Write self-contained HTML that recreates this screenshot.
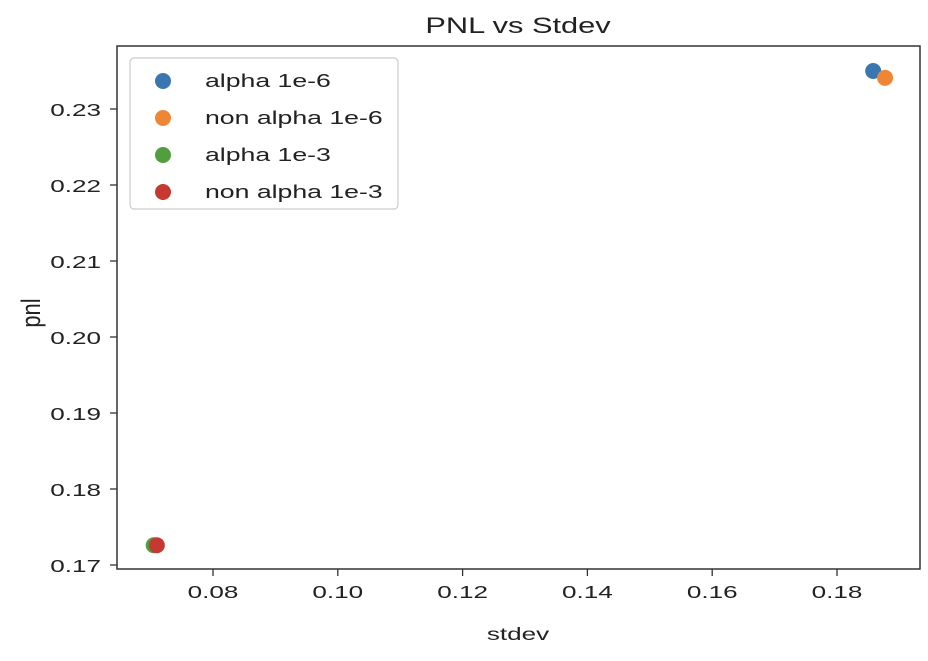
<!DOCTYPE html>
<html><head><meta charset="utf-8"><style>
body{margin:0;background:#fff;font-family:"Liberation Sans","DejaVu Sans",sans-serif}
</style></head><body>
<svg id="chart" width="928" height="656" xmlns="http://www.w3.org/2000/svg" font-family="Liberation Sans, DejaVu Sans, sans-serif">
<text transform="translate(518,33) scale(1.4,1)" font-size="22" text-anchor="middle" fill="#222">PNL vs Stdev</text>
<g id="xt"></g>
<g id="yt"></g>
<g id="pts"></g>
<rect x="117" y="46" width="803" height="523" fill="none" stroke="#333" stroke-width="1.5"/>
<text transform="translate(518,640) scale(1.45,1)" font-size="18" text-anchor="middle" fill="#222">stdev</text>
<text font-size="22" text-anchor="middle" fill="#222" transform="translate(40,313) rotate(-90) scale(1,1.2)">pnl</text>
<g>
<rect x="130" y="58" width="268" height="151" rx="4" fill="#fff" stroke="#ccc" stroke-width="1.2"/>
<g id="leg"></g>
</g>
</svg>
<script>
const seriesNames=["alpha 1e-6","non alpha 1e-6","alpha 1e-3","non alpha 1e-3"];
const colors=["#3a76af","#ef8636","#519e3e","#c53932"];
const xVals=[0.1858,0.1877,0.0705,0.0710];
const yVals=[0.2350,0.2341,0.1726,0.1726];
const xTicks=[0.08,0.10,0.12,0.14,0.16,0.18];
const yTicks=[0.17,0.18,0.19,0.20,0.21,0.22,0.23];
const NS="http://www.w3.org/2000/svg";
const X=v=>213+(v-0.08)*6240;
const Y=v=>565-(v-0.17)*7600;
function mk(t,a,p){const e=document.createElementNS(NS,t);for(const k in a)e.setAttribute(k,a[k]);p.appendChild(e);return e;}
const xt=document.getElementById('xt'),yt=document.getElementById('yt'),pts=document.getElementById('pts'),leg=document.getElementById('leg');
xTicks.forEach(v=>{
 const l=mk('line',{x1:X(v),x2:X(v),y1:569,y2:576,stroke:'#333','stroke-width':1.3},xt);
 
 
 const t=mk('text',{transform:'translate('+X(v)+',598) scale(1.45,1)','font-size':18,'text-anchor':'middle',fill:'#222'},xt);t.textContent=v.toFixed(2);
 
 
});
yTicks.forEach(v=>{
 const l=mk('line',{x1:110,x2:117,y1:Y(v),y2:Y(v),stroke:'#333','stroke-width':1.3},yt);
 
 
 const t=mk('text',{transform:'translate(101,'+(Y(v)+7)+') scale(1.45,1)','font-size':18,'text-anchor':'end',fill:'#222'},yt);t.textContent=v.toFixed(2);
 
 
});
xVals.forEach((v,i)=>{
 const c=mk('circle',{cx:X(v),cy:Y(yVals[i]),r:8,fill:colors[i]},pts);
 
 
});
seriesNames.forEach((n,i)=>{
 const y=79+i*37;
 const c=mk('circle',{cx:163,cy:y+2,r:8,fill:colors[i]},leg);
 
 
 const t=mk('text',{transform:'translate(205,'+(y+8)+') scale(1.48,1)','font-size':18,fill:'#222'},leg);t.textContent=n;
 
 
});
</script>
</body></html>
